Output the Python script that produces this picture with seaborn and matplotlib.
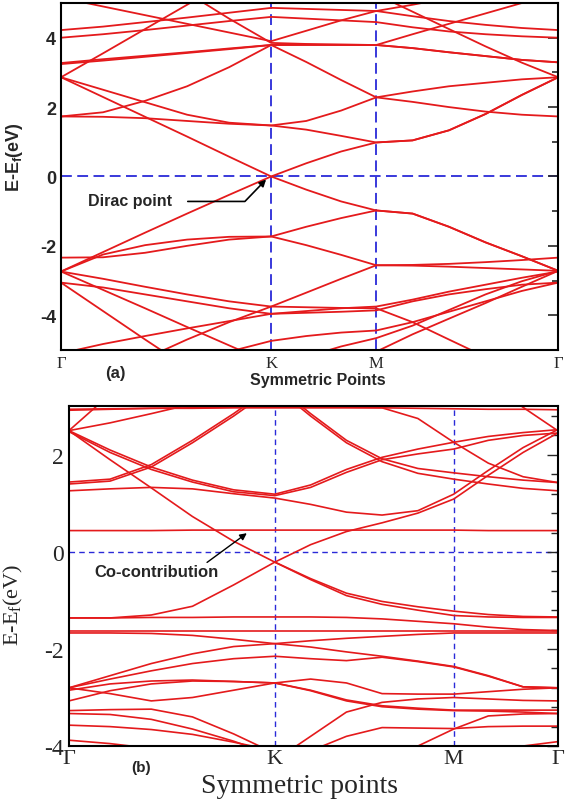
import numpy as np
import pandas as pd
import matplotlib
matplotlib.use("Agg")
import matplotlib.pyplot as plt
from matplotlib.ticker import MultipleLocator
import seaborn as sns

n = np.nan

# ---- panel (a): k-path grid and high-symmetry points ----
kA = [0, 0.2, 0.4, 0.6, 0.8, 1.0, 1.167, 1.333, 1.5, 1.673, 1.846, 2.02, 2.193, 2.366]
symA = [0, 1.0, 1.5, 2.366]

bandsA = {
    'a1': [2.86, 2.29, 1.72, 1.15, 0.57, 0.0, -0.38, -0.72, -0.98, -1.07, -1.45, -1.9, -2.3, -2.72],
    'a2': [-2.74, -2.18, -1.62, -1.07, -0.53, 0.0, 0.38, 0.72, 0.98, 1.04, 1.33, 1.8, 2.35, 2.86],
    'a3': [-2.34, -2.33, -2.2, -2.0, -1.82, -1.73, -1.45, -1.2, -0.98, -1.07, -1.45, -1.9, -2.3, -2.72],
    'a4': [-2.74, -2.25, -1.98, -1.82, -1.74, -1.73, -1.98, -2.26, -2.56, -2.55, -2.52, -2.47, -2.41, -2.34],
    'a5': [-2.74, -2.95, -3.18, -3.4, -3.6, -3.75, -3.35, -2.95, -2.56, -2.57, -2.6, -2.64, -2.68, -2.72],
    'a6': [-3.06, -3.2, -3.4, -3.6, -3.8, -3.96, -3.93, -3.9, -3.86, -3.6, -3.4, -3.25, -3.12, -3.06],
    'a7': [-2.74, -3.27, -3.8, -4.34, -4.87, -5.4, n, n, n, n, n, n, n, n],
    'a8': [-3.06, -3.88, -4.7, -5.5, n, n, n, n, n, n, n, n, n, n],
    'a9': [-5.1, -4.83, -4.6, -4.38, -4.17, -3.96, -3.88, -3.8, -3.75, -3.55, -3.32, -3.12, -2.92, -2.74],
    'a10': [n, n, -5.25, -4.7, -4.2, -3.75, -3.77, -3.79, -3.8, -4.2, -4.7, -5.2, n, n],
    'a11': [n, n, n, n, -5.05, -4.74, -4.6, -4.5, -4.44, -4.2, -3.9, -3.6, -3.3, -3.06],
    'a12': [n, n, n, n, n, n, -5.2, -4.9, -4.66, -4.3, -3.85, -3.4, -3.02, -2.72],
    'a13': [n, n, n, n, n, n, n, n, -5.05, -4.55, -4.1, -3.65, -3.18, -2.72],
    'a15': [2.86, 2.5, 2.14, 1.78, 1.55, 1.47, 1.6, 1.9, 2.28, 2.45, 2.6, 2.7, 2.8, 2.86],
    'a16': [1.73, 1.72, 1.68, 1.6, 1.52, 1.47, 1.35, 1.17, 0.98, 1.04, 1.33, 1.8, 2.35, 2.86],
    'a17': [1.73, 1.85, 2.18, 2.6, 3.15, 3.79, 3.3, 2.78, 2.28, 2.15, 2.0, 1.87, 1.78, 1.73],
    'a18': [3.27, 3.38, 3.48, 3.58, 3.69, 3.79, 3.79, 3.79, 3.79, 3.7, 3.58, 3.47, 3.36, 3.29],
    'a19': [3.24, 3.34, 3.45, 3.56, 3.67, 3.79, 3.8, 3.8, 3.79, 4.1, 4.4, 4.7, 5.0, 5.3],
    'a20': [4.0, 4.1, 4.22, 4.35, 4.48, 4.6, 4.55, 4.5, 4.45, 4.3, 4.18, 4.1, 4.04, 4.0],
    'a21': [4.22, 4.32, 4.45, 4.58, 4.72, 4.86, 4.83, 4.8, 4.77, 4.62, 4.48, 4.37, 4.28, 4.22],
    'a22': [2.86, 3.55, 4.25, 4.95, 5.65, n, n, n, n, n, n, n, n, n],
    'a23': [5.15, 4.9, 4.65, 4.4, 4.15, 3.9, 4.2, 4.5, 4.77, 4.95, 5.15, n, n, n],
    'a24': [n, n, n, 5.3, 4.55, 3.85, 3.82, 3.8, 3.79, 3.7, 3.58, 3.47, 3.36, 3.29],
    'a25': [n, n, n, n, n, n, n, n, 5.25, 4.75, 4.25, 3.75, 3.28, 2.86],
}

# ---- panel (b) ----
kB = [0, 0.2, 0.4, 0.6, 0.8, 1.0, 1.174, 1.348, 1.521, 1.695, 1.869, 2.037, 2.206, 2.374]
symB = [0, 1.0, 1.869, 2.374]

bandsB = {
    'b1': [0.44, 0.44, 0.44, 0.45, 0.45, 0.45, 0.45, 0.45, 0.45, 0.45, 0.45, 0.44, 0.44, 0.44],
    'b2': [2.5, 1.9, 1.32, 0.73, 0.22, -0.21, -0.55, -0.85, -1.02, -1.13, -1.22, -1.29, -1.33, -1.34],
    'b2b': [n, n, n, n, n, -0.21, -0.57, -0.9, -1.08, -1.2, -1.31, -1.34, -1.35, -1.35],
    'b3': [-1.36, -1.36, -1.3, -1.12, -0.68, -0.21, 0.15, 0.42, 0.6, 0.8, 1.09, 1.58, 2.05, 2.45],
    'b4': [1.44, 1.5, 1.8, 2.3, 2.85, 3.45, 2.85, 2.3, 1.92, 1.72, 1.63, 1.55, 1.48, 1.43],
    'b4b': [1.40, 1.46, 1.75, 2.25, 2.8, 3.4, 2.8, 2.25, 1.86, 1.62, 1.5, 1.4, 1.31, 1.26],
    'b5': [1.26, 1.3, 1.33, 1.3, 1.2, 1.11, 0.98, 0.82, 0.76, 0.85, 1.19, 1.68, 2.15, 2.52],
    'b6': [2.5, 2.1, 1.75, 1.48, 1.28, 1.19, 1.38, 1.7, 1.95, 2.12, 2.26, 2.38, 2.46, 2.52],
    'b6b': [2.48, 2.05, 1.7, 1.44, 1.24, 1.16, 1.33, 1.64, 1.9, 2.02, 2.12, 2.3, 2.4, 2.45],
    'b8': [2.94, 2.95, 2.96, 2.96, 2.97, 2.97, 2.97, 2.97, 2.97, 2.75, 2.26, 1.83, 1.55, 1.43],
    'b9': [n, n, n, n, n, n, n, n, n, n, 4.0, 3.5, 2.98, 2.5],
    'b10': [2.5, 3.25, 4.0, n, n, n, n, n, n, n, n, n, n, n],
    'b11': [2.5, 2.66, 2.85, 3.05, n, n, n, n, n, n, n, n, n, n],
    'b12': [2.92, 2.94, 2.96, 2.97, 2.98, 2.98, 2.98, 2.98, 2.97, 2.96, 2.95, 2.94, 2.94, 2.93],
    'b13': [-1.36, -1.36, -1.35, -1.35, -1.34, -1.34, -1.34, -1.35, -1.38, -1.43, -1.48, -1.55, -1.6, -1.62],
    'b14': [-1.62, -1.62, -1.62, -1.62, -1.62, -1.62, -1.62, -1.62, -1.62, -1.62, -1.62, -1.62, -1.62, -1.62],
    'b15': [-1.67, -1.67, -1.68, -1.72, -1.8, -1.89, -1.83, -1.78, -1.74, -1.7, -1.67, -1.67, -1.67, -1.67],
    'b16': [-2.8, -2.55, -2.3, -2.1, -1.95, -1.89, -1.96, -2.06, -2.15, -2.25, -2.36, -2.55, -2.78, -2.8],
    'b17': [-2.8, -2.62, -2.45, -2.3, -2.2, -2.15, -2.2, -2.24, -2.17, -2.26, -2.37, -2.56, -2.78, -2.8],
    'b18': [-2.85, -2.72, -2.66, -2.64, -2.67, -2.7, -2.62, -2.7, -2.92, -2.93, -2.93, -2.88, -2.83, -2.8],
    'b20': [-2.8, -2.92, -3.07, -3.0, -2.85, -2.7, -2.85, -3.05, -3.17, -3.22, -3.26, -3.26, -3.26, -3.26],
    'b21': [-3.07, -2.86, -2.72, -2.66, -2.67, -2.7, -2.86, -3.07, -3.19, -3.24, -3.27, -3.28, -3.3, -3.33],
    'b22': [-3.27, -3.25, -3.24, -3.4, -3.75, -4.15, n, n, n, n, n, n, n, n],
    'b23': [-3.33, -3.35, -3.45, -3.65, -3.9, -4.2, n, n, n, n, n, n, n, n],
    'b24': [-3.57, -3.6, -3.66, -3.76, -3.92, -4.1, n, n, n, n, n, n, n, n],
    'b25': [-3.88, -3.95, -4.05, n, n, n, n, n, n, n, n, n, n, n],
    'b26': [n, n, n, n, n, -4.3, -3.8, -3.3, -3.1, -3.03, -3.0, -3.03, -3.06, -3.07],
    'b27': [n, n, n, n, n, n, -4.1, -3.8, -3.62, -3.63, -3.64, -3.6, -3.59, -3.59],
    'b28': [n, n, n, n, n, n, n, n, n, -4.0, -3.65, -3.38, -3.34, -3.33],
    'b29': [n, n, n, n, n, n, n, n, n, n, n, n, -4.0, -3.91],
}

sym_labels = ['\u0393', 'K', 'M', '\u0393']


def to_long(kgrid, bands):
    rows = []
    for name, vals in bands.items():
        for k, e in zip(kgrid, vals):
            if not np.isnan(e):
                rows.append((name, k, e))
    return pd.DataFrame(rows, columns=['band', 'k', 'E'])


sns.set_style("white")
plt.rcParams['font.family'] = ['Liberation Sans', 'DejaVu Sans']
plt.rcParams['mathtext.default'] = 'regular'

fig = plt.figure(figsize=(5.65, 8.03), dpi=100)
axA = fig.add_axes([0.108, 0.563, 0.880, 0.432])
axB = fig.add_axes([0.122, 0.0697, 0.865, 0.423])

red = '#e41a1c'
blue = '#2a2ad8'
serif = 'Liberation Serif'

# ---------------- panel (a) ----------------
dfA = to_long(kA, bandsA)
sns.lineplot(data=dfA, x='k', y='E', units='band', estimator=None, sort=False,
             color=red, lw=1.3, ax=axA, legend=False)
axA.set_xlim(0, symA[-1])
axA.set_ylim(-5, 5)
for kx in symA[1:3]:
    axA.axvline(kx, color=blue, ls=(0, (6, 3)), lw=1.3, zorder=0)
axA.axhline(0, color=blue, ls=(0, (6, 3)), lw=1.3, zorder=0)

axA.set_xticks(symA)
axA.set_xticklabels(sym_labels, family=serif, fontsize=12)
axA.set_yticks([-4, -2, 0, 2, 4])
axA.set_yticklabels(['-4', '-2', '0', '2', '4'], fontsize=13, fontweight='bold')
axA.yaxis.set_minor_locator(MultipleLocator(1))
axA.tick_params(axis='y', which='both', direction='in', right=True, width=1.2)
axA.tick_params(axis='y', which='major', length=7)
axA.tick_params(axis='y', which='minor', length=4)
axA.tick_params(axis='x', direction='in', length=4, pad=4)
axA.set_xlabel('')
axA.set_ylabel('E-E$_f$(eV)', fontsize=13, fontweight='bold')
axA.yaxis.set_label_coords(-0.072, 0.56)
axA.text(0.517, -0.086, 'Symmetric Points', transform=axA.transAxes,
         ha='center', va='center', fontsize=11.5, fontweight='bold')
axA.text(0.11, -0.066, '(a)', transform=axA.transAxes,
         ha='center', va='center', fontsize=12, fontweight='bold')
axA.text(0.13, -0.7, 'Dirac point', ha='left', va='center',
         fontsize=11.5, fontweight='bold')
axA.annotate('', xy=(0.985, -0.03), xytext=(0.59, -0.72),
             arrowprops=dict(arrowstyle='-|>', color='black', lw=1.2,
                             connectionstyle='angle,angleA=0,angleB=46,rad=0',
                             mutation_scale=10))
for s in axA.spines.values():
    s.set_linewidth(1.5)
    s.set_color('black')

# ---------------- panel (b) ----------------
dfB = to_long(kB, bandsB)
sns.lineplot(data=dfB, x='k', y='E', units='band', estimator=None, sort=False,
             color=red, lw=1.2, ax=axB, legend=False)
axB.set_xlim(0, symB[-1])
axB.set_ylim(-4, 3)
for kx in symB[1:3]:
    axB.axvline(kx, color=blue, ls=(0, (4, 3)), lw=1.0, zorder=0)
axB.axhline(0, color=blue, ls=(0, (4, 3)), lw=1.0, zorder=0)

axB.set_xticks(symB)
axB.set_xticklabels(sym_labels, family=serif, fontsize=16)
axB.set_yticks([-4, -2, 0, 2])
axB.set_yticklabels(['-4', '-2', '0', '2'], family=serif, fontsize=17)
axB.yaxis.set_minor_locator(MultipleLocator(0.4))
axB.tick_params(axis='y', which='both', direction='in', right=True, width=1.0)
axB.tick_params(axis='y', which='major', length=8)
axB.tick_params(axis='y', which='minor', length=5)
axB.tick_params(axis='x', direction='in', length=5, pad=2)
axB.set_xlabel('')
axB.set_ylabel('E-E$_f$(eV)', family=serif, fontsize=16)
axB.yaxis.set_label_coords(-0.09, 0.42)
axB.text(0.472, -0.115, 'Symmetric points', transform=axB.transAxes,
         ha='center', va='center', fontsize=20, family=serif)
axB.text(0.147, -0.062, '(b)', transform=axB.transAxes,
         ha='center', va='center', fontsize=11, fontweight='bold')
axB.text(0.125, -0.41, 'Co-contribution', ha='left', va='center',
         fontsize=12, fontweight='bold')
axB.annotate('', xy=(0.875, 0.42), xytext=(0.66, -0.25),
             arrowprops=dict(arrowstyle='-|>', color='black', lw=1.0,
                             mutation_scale=10))
for s in axB.spines.values():
    s.set_linewidth(1.5)
    s.set_color('black')

fig.savefig('out.png', dpi=100)
